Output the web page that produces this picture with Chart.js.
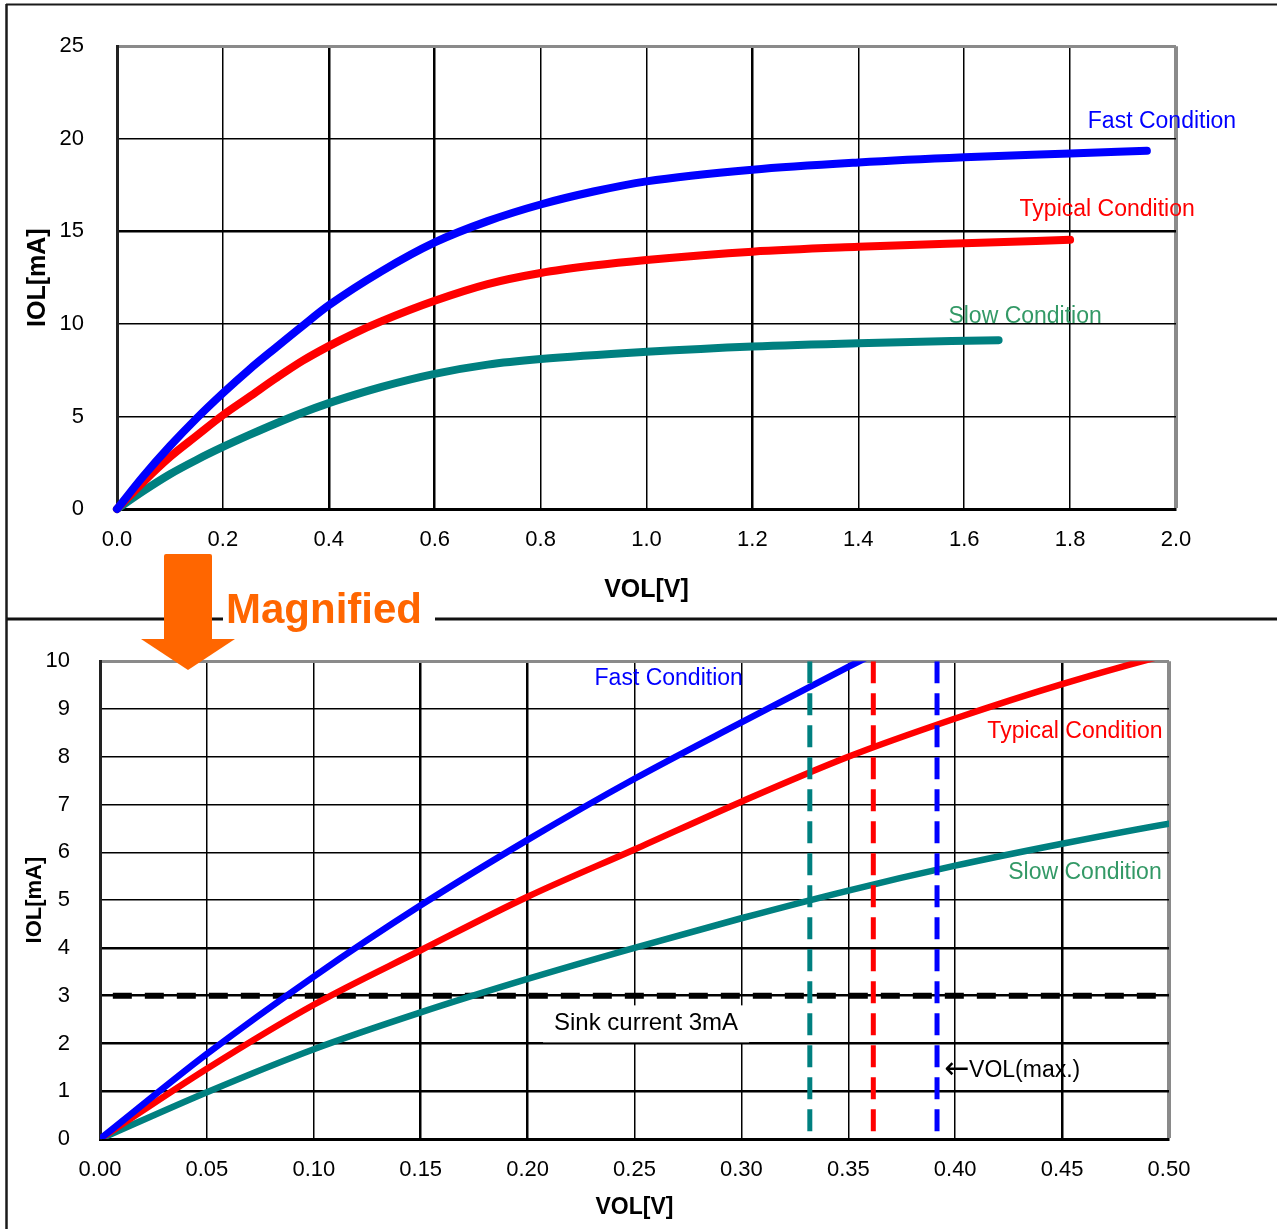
<!DOCTYPE html>
<html>
<head>
<meta charset="utf-8">
<script src="https://cdn.jsdelivr.net/npm/chart.js@4.4.1/dist/chart.umd.min.js"></script>
<style>
  body { margin: 0; background: #fff; }
  #page { position: relative; width: 1277px; height: 1229px; overflow: hidden; }
  canvas { position: absolute; left: 0; }
  #topChart { top: 0; }
  #botChart { top: 618px; }
  #deco { position: absolute; left: 0; top: 0; pointer-events: none; }
</style>
</head>
<body>
<div id="page">
  <canvas id="topChart" width="1277" height="618"></canvas>
  <canvas id="botChart" width="1277" height="611"></canvas>
  <svg id="deco" width="1277" height="1229">
    <line x1="6" y1="4.5" x2="1277" y2="4.5" stroke="#1a1a1a" stroke-width="2"/>
    <line x1="6.5" y1="4" x2="6.5" y2="1229" stroke="#1a1a1a" stroke-width="2.5"/>
    <line x1="7" y1="619" x2="1277" y2="619" stroke="#111" stroke-width="3"/>
    <rect x="223" y="596" width="212" height="42" fill="#fff"/>
    <text x="226" y="623" fill="#ff6600" font-family="Liberation Sans, Arial, sans-serif" font-weight="bold" font-size="42">Magnified</text>
    <rect x="164" y="554" width="48" height="88" rx="2" fill="#ff6600"/>
    <polygon points="141,639 235,639 188,670" fill="#ff6600"/>
  </svg>
</div>
<script>
// IOL vs VOL curves, shared by both panels
const fastVol = [0, 0.05, 0.10, 0.15, 0.20, 0.25, 0.30, 0.35, 0.40, 0.50, 0.60, 0.70, 0.80, 0.90, 1.00, 1.20, 1.40, 1.60, 1.80, 1.945];
const fastIol = [0, 1.78, 3.40, 4.89, 6.26, 7.54, 8.72, 9.88, 11.0, 12.85, 14.4, 15.55, 16.45, 17.15, 17.7, 18.33, 18.72, 19.0, 19.2, 19.35];

const typVol = [0, 0.05, 0.10, 0.15, 0.20, 0.25, 0.30, 0.35, 0.40, 0.45, 0.50, 0.60, 0.70, 0.80, 0.90, 1.00, 1.20, 1.40, 1.60, 1.80];
const typIol = [0, 1.47, 2.81, 3.95, 5.07, 6.06, 7.06, 8.0, 8.8, 9.52, 10.15, 11.25, 12.15, 12.75, 13.15, 13.45, 13.9, 14.16, 14.36, 14.54];

const slowVol = [0, 0.05, 0.10, 0.15, 0.20, 0.25, 0.30, 0.35, 0.40, 0.45, 0.50, 0.60, 0.70, 0.80, 1.00, 1.20, 1.40, 1.665];
const slowIol = [0, 0.98, 1.88, 2.65, 3.35, 4.0, 4.62, 5.2, 5.72, 6.18, 6.6, 7.3, 7.8, 8.1, 8.49, 8.78, 8.96, 9.12];

// VOL(max.) markers and sink current level (magnified panel)
const volMaxSlow = 0.332;
const volMaxTyp = 0.3617;
const volMaxFast = 0.3915;
const volMaxSpan = [10, 0.14];
const sinkVol = [0.006, 0.5];
const sinkIol = [3, 3];

// axis ticks
const topXTicks = [0, 2.0, 0.2];
const topYTicks = [0, 25, 5];
const botXTicks = [0, 0.5, 0.05];
const botYTicks = [0, 10, 1];

const BLUE = '#0000ff', RED = '#ff0000', TEAL = '#008080', GREEN = '#339966';
const FONT = "'Liberation Sans', Arial, sans-serif";

function pts(xs, ys) {
  return xs.map((x, i) => ({ x: x, y: ys[i] }));
}

function curve(xs, ys, color, width, clip) {
  return {
    data: pts(xs, ys), borderColor: color, borderWidth: width,
    pointRadius: 0, cubicInterpolationMode: 'monotone',
    borderCapStyle: 'round', borderJoinStyle: 'round', clip: clip
  };
}

function dashed(xs, ys, color, dash, width) {
  return {
    data: pts(xs, ys), borderColor: color, borderWidth: width,
    pointRadius: 0, borderDash: dash, borderCapStyle: 'butt', clip: 0
  };
}

const notesPlugin = {
  id: 'notes',
  afterDatasetsDraw(chart, args, opts) {
    const { ctx } = chart;
    const x = chart.scales.x, y = chart.scales.y;
    ctx.save();
    (opts.items || []).forEach(n => {
      const px = x.getPixelForValue(n.x);
      const py = y.getPixelForValue(n.y);
      ctx.font = n.font;
      ctx.textAlign = n.align || 'center';
      ctx.textBaseline = 'middle';
      if (n.box) {
        const w = ctx.measureText(n.text).width;
        ctx.fillStyle = '#fff';
        ctx.fillRect(px - w / 2 - n.box, py - 18, w + 2 * n.box, 37);
      }
      ctx.fillStyle = n.color;
      ctx.fillText(n.text, px, py);
    });
    ctx.restore();
  }
};

function axes(cfg) {
  return {
    x: {
      type: 'linear', min: cfg.xt[0], max: cfg.xt[1],
      afterFit: s => { s.height = cfg.xh; },
      ticks: {
        stepSize: cfg.xt[2], autoSkip: false, maxRotation: 0, padding: 18,
        color: '#000', font: { family: FONT, size: 22 },
        callback: v => Number(v).toFixed(cfg.dec)
      },
      grid: {
        drawTicks: false,
        color: c => c.index === cfg.xn ? '#8a8a8a' : '#000',
        lineWidth: c => c.index === cfg.xn ? 4 : (cfg.xThick.includes(c.index) ? 2.5 : 1.5)
      },
      border: { color: '#000', width: 3 },
      title: {
        display: true, text: 'VOL[V]', color: '#000',
        font: { family: FONT, size: cfg.xtSize, weight: 'bold' },
        padding: { top: 0, bottom: cfg.xtPad }
      }
    },
    y: {
      type: 'linear', min: cfg.yt[0], max: cfg.yt[1],
      afterFit: s => { s.width = cfg.yw; },
      ticks: {
        stepSize: cfg.yt[2], padding: cfg.ypad,
        color: '#000', font: { family: FONT, size: 22 }
      },
      grid: {
        drawTicks: false,
        color: c => c.index === cfg.yn ? '#8a8a8a' : '#000',
        lineWidth: c => c.index === cfg.yn ? 3 : (cfg.yThick.includes(c.index) ? 2.5 : 1.5)
      },
      border: { color: '#222', width: 3 },
      title: {
        display: true, text: 'IOL[mA]', color: '#000',
        font: { family: FONT, size: cfg.ytSize, weight: 'bold' },
        padding: { top: cfg.ytPad, bottom: 0 }
      }
    }
  };
}

const common = {
  responsive: false, animation: false, events: [],
  plugins: { legend: { display: false }, tooltip: { enabled: false } }
};

// top panel: full range
new Chart(document.getElementById('topChart'), {
  type: 'line',
  data: {
    datasets: [
      curve(fastVol, fastIol, BLUE, 8, false),
      curve(typVol, typIol, RED, 8, false),
      curve(slowVol, slowIol, TEAL, 8, false)
    ]
  },
  options: Object.assign({}, common, {
    layout: { padding: { left: 0, top: 43, right: 101, bottom: 0 } },
    scales: axes({
      xt: topXTicks, yt: topYTicks, dec: 1, xn: 10, yn: 5,
      xThick: [2, 3, 6], yThick: [3],
      xh: 109, yw: 117, ypad: 33,
      xtSize: 25, xtPad: 13, ytSize: 25, ytPad: 23
    }),
    plugins: Object.assign({}, common.plugins, {
      notes: {
        items: [
          { text: 'Fast Condition', x: 1.9735, y: 20.92, color: BLUE, font: '23px ' + FONT },
          { text: 'Typical Condition', x: 1.870, y: 16.15, color: RED, font: '23px ' + FONT },
          { text: 'Slow Condition', x: 1.715, y: 10.41, color: GREEN, font: '23px ' + FONT }
        ]
      }
    })
  }),
  plugins: [notesPlugin]
});

// bottom panel: magnified view
new Chart(document.getElementById('botChart'), {
  type: 'line',
  data: {
    datasets: [
      dashed([volMaxSlow, volMaxSlow], volMaxSpan, TEAL, [22, 10], 5),
      dashed([volMaxTyp, volMaxTyp], volMaxSpan, RED, [22, 10], 5),
      dashed([volMaxFast, volMaxFast], volMaxSpan, BLUE, [22, 10], 5),
      curve(fastVol, fastIol, BLUE, 6.5, 0),
      curve(typVol, typIol, RED, 6.5, 0),
      curve(slowVol, slowIol, TEAL, 6.5, 0),
      dashed(sinkVol, sinkIol, '#000', [19, 13], 6)
    ]
  },
  options: Object.assign({}, common, {
    layout: { padding: { left: 0, top: 38, right: 108, bottom: 0 } },
    scales: axes({
      xt: botXTicks, yt: botYTicks, dec: 2, xn: 10, yn: 10,
      xThick: [3, 4, 9], yThick: [1, 2, 3, 4],
      xh: 90, yw: 100, ypad: 30,
      xtSize: 23, xtPad: 8, ytSize: 22, ytPad: 22
    }),
    plugins: Object.assign({}, common.plugins, {
      notes: {
        items: [
          { text: 'Fast Condition', x: 0.266, y: 9.63, color: BLUE, font: '23px ' + FONT },
          { text: 'Typical Condition', x: 0.456, y: 8.53, color: RED, font: '23px ' + FONT },
          { text: 'Slow Condition', x: 0.4607, y: 5.57, color: GREEN, font: '23px ' + FONT },
          { text: 'Sink current 3mA', x: 0.2554, y: 2.42, color: '#000', font: '24px ' + FONT, box: 11 },
          { text: '\u2190', x: 0.3950, y: 1.43, color: '#000', font: "30px 'DejaVu Sans'", align: 'left' },
          { text: 'VOL(max.)', x: 0.4065, y: 1.43, color: '#000', font: '23px ' + FONT, align: 'left' }
        ]
      }
    })
  }),
  plugins: [notesPlugin]
});
</script>
</body>
</html>
